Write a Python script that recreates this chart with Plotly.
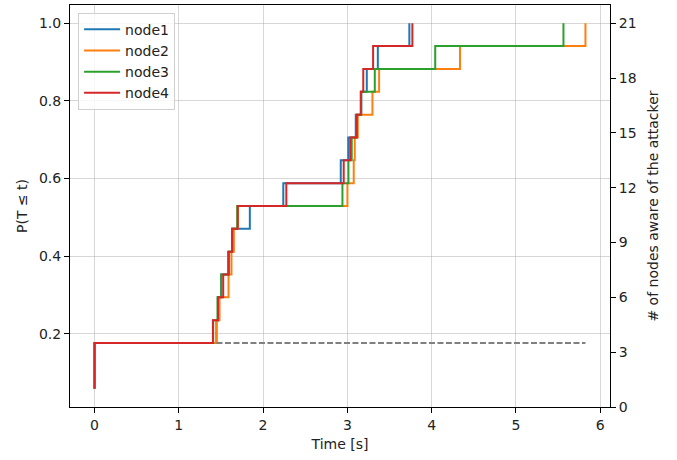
import plotly.graph_objects as go

# ---- data ----
total_nodes = 17
start_level = 1  # count at t=0 (before the jump)
levels = list(range(3, 18))  # counts after each step: 3..17

node_names = ["node1", "node2", "node3", "node4"]
colors = ["#1f77b4", "#ff7f0e", "#2ca02c", "#d62728"]

# jump times (s) for levels 4..17 (level 3 reached at t=0)
node1_times = [1.447, 1.471, 1.503, 1.590, 1.634, 1.843, 2.240, 2.922, 3.011, 3.100, 3.165, 3.231, 3.362, 3.736]
node2_times = [1.447, 1.483, 1.590, 1.625, 1.653, 1.700, 3.001, 3.076, 3.088, 3.124, 3.298, 3.377, 4.337, 5.826]
node3_times = [1.408, 1.459, 1.503, 1.586, 1.631, 1.693, 2.942, 3.013, 3.052, 3.112, 3.165, 3.326, 4.043, 5.565]
node4_times = [1.405, 1.465, 1.527, 1.593, 1.634, 1.700, 2.276, 2.957, 3.034, 3.112, 3.159, 3.189, 3.306, 3.772]

baseline_x = [1.447, 5.826]
baseline_level = 3

right_ticks = [0, 3, 6, 9, 12, 15, 18, 21]
left_ticks = [0.2, 0.4, 0.6, 0.8, 1.0]
x_ticks = [0, 1, 2, 3, 4, 5, 6]

all_times = [node1_times, node2_times, node3_times, node4_times]

fig = go.Figure()
for name, col, times in zip(node_names, colors, all_times):
    xs = [0, 0] + times
    ys = [start_level / total_nodes] + [k / total_nodes for k in levels]
    fig.add_trace(go.Scatter(x=xs, y=ys, mode="lines", name=name,
                             line=dict(color=col, width=2, shape="hv")))

fig.add_trace(go.Scatter(x=baseline_x, y=[baseline_level / total_nodes] * 2,
                         mode="lines", showlegend=False,
                         line=dict(color="gray", width=2, dash="6px,2.5px")))
fig.add_trace(go.Scatter(x=[None], y=[None], yaxis="y2", showlegend=False,
                         hoverinfo="skip"))

font = dict(family="DejaVu Sans", size=14, color="#222222")
grid = "rgba(176,176,176,0.5)"
ymin = start_level / total_nodes
ymax = 1.0
pad = 0.05 * (ymax - ymin)
xmax = max(max(t) for t in all_times)
xpad = 0.05 * xmax

fig.update_layout(
    width=677, height=460,
    margin=dict(l=70, r=67, t=5, b=53),
    paper_bgcolor="white", plot_bgcolor="white",
    font=font,
    showlegend=True,
    legend=dict(x=0.015, y=0.981, xanchor="left", yanchor="top",
                bgcolor="rgba(255,255,255,0.8)", bordercolor="#d0d0d0",
                borderwidth=1, font=dict(family="DejaVu Sans", size=14, color="#222222"),
                tracegroupgap=1, itemwidth=36),
    xaxis=dict(range=[-xpad, xmax + xpad], tickvals=x_ticks,
               showgrid=True, gridcolor=grid, gridwidth=1,
               showline=True, linecolor="black", linewidth=1, mirror=True,
               ticks="outside", ticklen=5, tickcolor="black",
               zeroline=False, automargin=False,
               title=dict(text="Time [s]", standoff=7, font=font)),
    yaxis=dict(range=[ymin - pad, ymax + pad], tickvals=left_ticks,
               tickformat=".1f",
               showgrid=True, gridcolor=grid, gridwidth=1,
               showline=True, linecolor="black", linewidth=1, mirror=True,
               ticks="outside", ticklen=5, tickcolor="black",
               zeroline=False, automargin=False,
               title=dict(text="P(T ≤ t)", standoff=8, font=font)),
    yaxis2=dict(range=[0, 22], tickvals=right_ticks, overlaying="y",
                side="right", showgrid=False, zeroline=False,
                showline=True, linecolor="black", linewidth=1,
                ticks="outside", ticklen=5, tickcolor="black",
                automargin=False,
                title=dict(text="# of nodes aware of the attacker", standoff=12, font=font)),
)

fig.write_html("out.html", config={"displayModeBar": False},
               post_script="document.body.style.margin='0';document.body.style.overflow='hidden';")
